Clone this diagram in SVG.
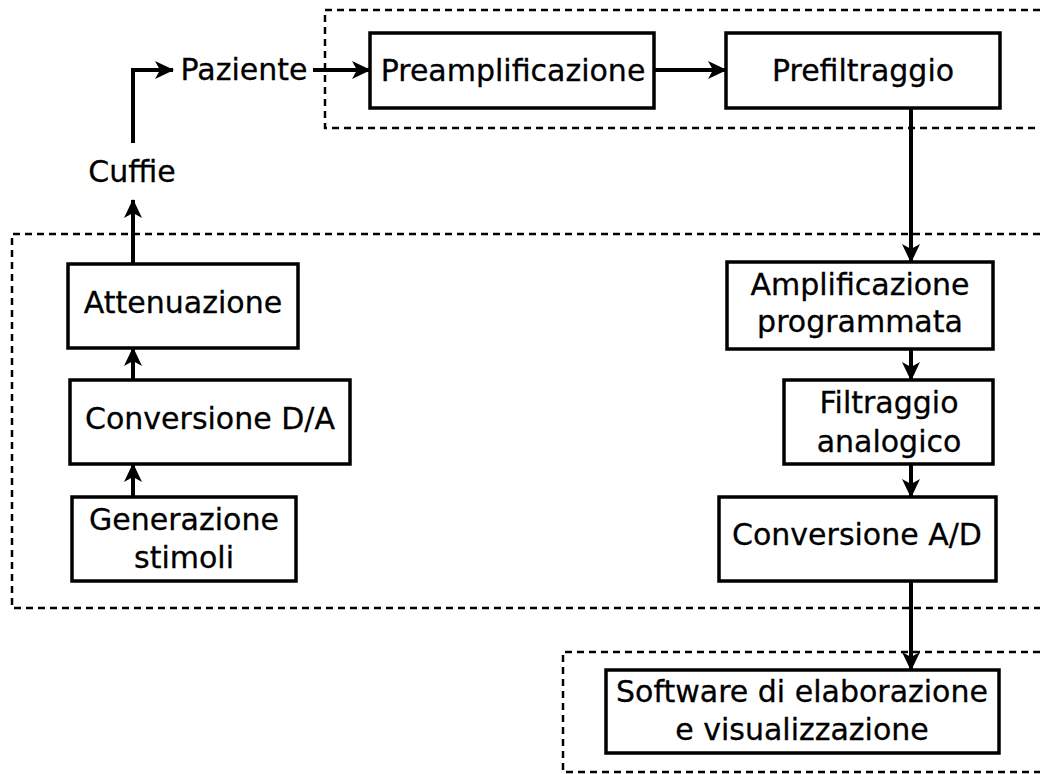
<svg xmlns="http://www.w3.org/2000/svg" width="1040" height="774" viewBox="0 0 1040 774">
<style>
.box{fill:#fff;stroke:#000;stroke-width:3.5}
.grp{fill:none;stroke:#000;stroke-width:2.5;stroke-dasharray:7,5}
.con{fill:none;stroke:#000;stroke-width:4}
text{font-family:"DejaVu Sans",sans-serif;font-size:30px;fill:#000;stroke:#000;stroke-width:0.3;text-anchor:middle}
</style>
<defs>
<marker id="ah" markerUnits="userSpaceOnUse" markerWidth="20" markerHeight="20" refX="18" refY="10" orient="auto" viewBox="0 0 20 20">
<path d="M0,1 L19,10 L0,19 L5,10 z" fill="#000"/>
</marker>
</defs>
<rect width="1040" height="774" fill="#fff"/>
<g id="groups">
<path class="grp" d="M1040,10 H325 V128 H1040"/>
<path class="grp" d="M1040,234 H12 V608 H1040"/>
<path class="grp" d="M1040,652 H563 V772 H1040"/>
</g>
<g id="connectors">
<path class="con" d="M133,143 V70 H173" marker-end="url(#ah)"/>
<path class="con" d="M133,264 V200" marker-end="url(#ah)"/>
<path class="con" d="M313,70 H370" marker-end="url(#ah)"/>
<path class="con" d="M654,70 H726" marker-end="url(#ah)"/>
<path class="con" d="M911,108 V262" marker-end="url(#ah)"/>
<path class="con" d="M911,349 V380" marker-end="url(#ah)"/>
<path class="con" d="M911,464 V497" marker-end="url(#ah)"/>
<path class="con" d="M911,581 V670" marker-end="url(#ah)"/>
<path class="con" d="M133,380 V348" marker-end="url(#ah)"/>
<path class="con" d="M133,497 V464" marker-end="url(#ah)"/>
</g>
<g id="paziente"><text x="244" y="80">Paziente</text></g>
<g id="cuffie"><text x="132" y="182">Cuffie</text></g>
<g id="preamplificazione"><rect class="box" x="370" y="33" width="284" height="75"/><text x="513" y="81">Preamplificazione</text></g>
<g id="prefiltraggio"><rect class="box" x="726" y="33" width="274" height="75"/><text x="863" y="81">Prefiltraggio</text></g>
<g id="attenuazione"><rect class="box" x="68" y="264" width="230" height="84"/><text x="183" y="313">Attenuazione</text></g>
<g id="conversione-da"><rect class="box" x="70" y="380" width="280" height="84"/><text x="210" y="429">Conversione D/A</text></g>
<g id="generazione"><rect class="box" x="72" y="497" width="224" height="84"/><text x="184" y="530">Generazione</text><text x="184" y="568">stimoli</text></g>
<g id="amplificazione"><rect class="box" x="727" y="262" width="266" height="87"/><text x="860" y="295">Amplificazione</text><text x="860" y="332">programmata</text></g>
<g id="filtraggio"><rect class="box" x="784" y="380" width="209" height="84"/><text x="889" y="413">Filtraggio</text><text x="889" y="452">analogico</text></g>
<g id="conversione-ad"><rect class="box" x="719" y="497" width="277" height="84"/><text x="857" y="545">Conversione A/D</text></g>
<g id="software"><rect class="box" x="606" y="670" width="393" height="83"/><text x="802" y="702">Software di elaborazione</text><text x="802" y="740">e visualizzazione</text></g>
</svg>
